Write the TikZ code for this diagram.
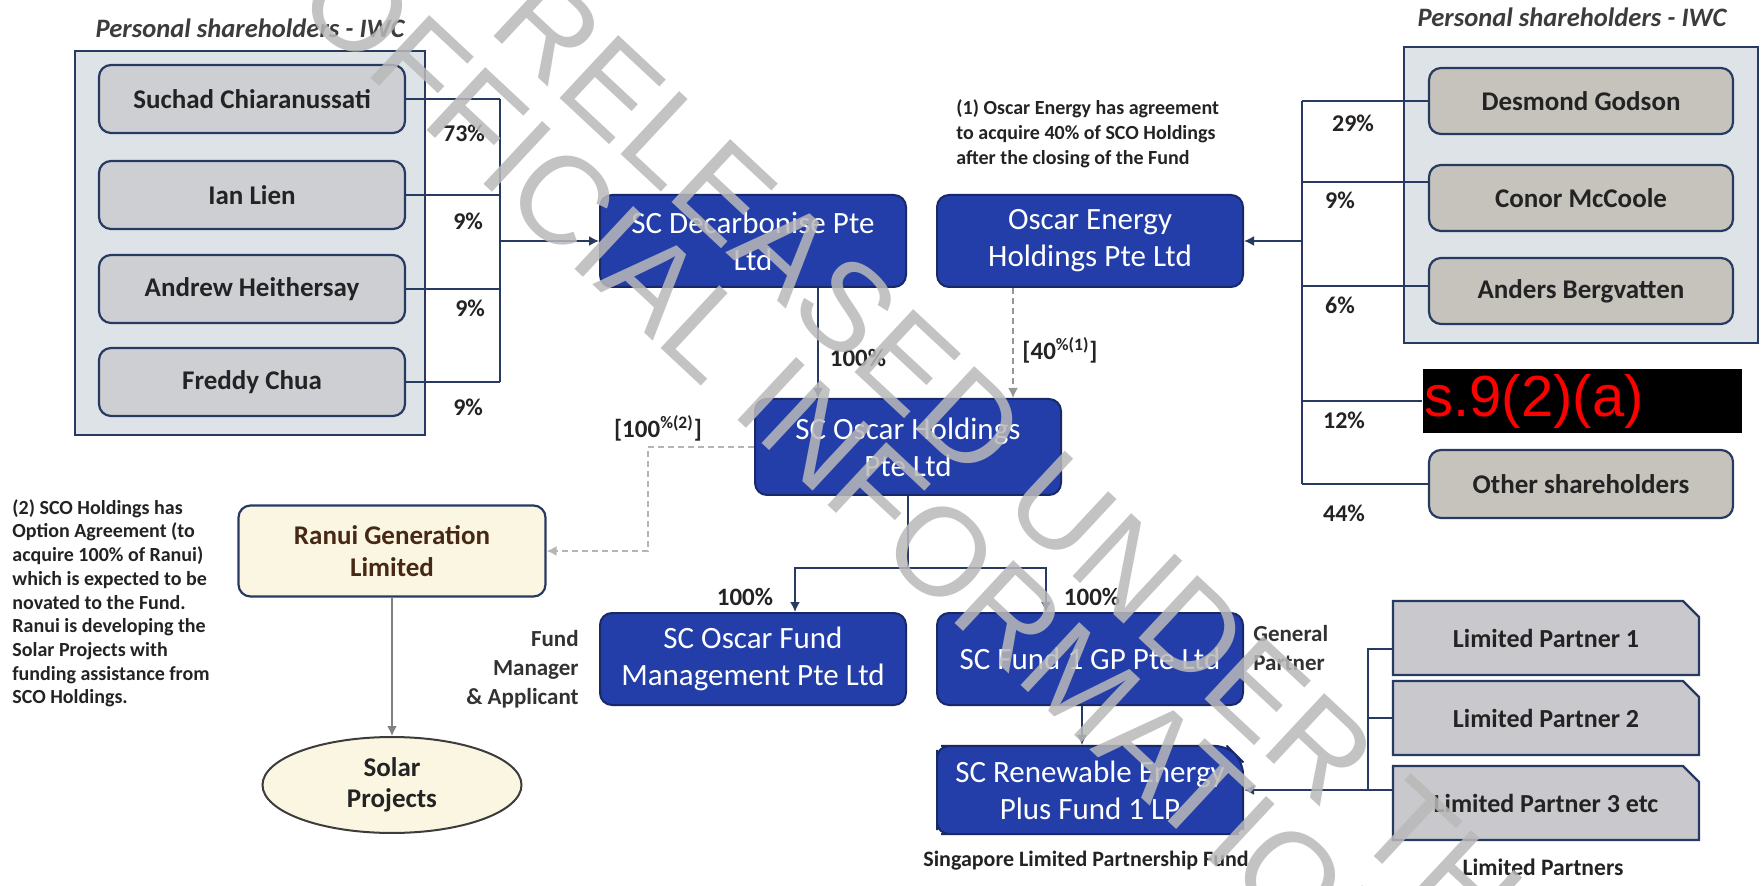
\documentclass[tikz,border=0pt]{standalone}
\usepackage{fontspec}
\setmainfont{Carlito}
\newfontfamily\redactfont{Liberation Sans}
\newfontfamily\stampfont{Liberation Sans}
\usetikzlibrary{positioning, arrows.meta, shapes.geometric, shapes.misc}

\definecolor{boxblue}{RGB}{35,62,168}
\definecolor{boxedge}{RGB}{24,40,105}
\definecolor{navy}{RGB}{38,58,98}
\definecolor{greyfill}{RGB}{205,207,211}
\definecolor{warmgrey}{RGB}{198,195,188}
\definecolor{lpgrey}{RGB}{201,201,205}
\definecolor{panelfill}{RGB}{222,227,232}
\definecolor{creamfill}{RGB}{251,246,226}
\definecolor{textdark}{RGB}{35,35,35}
\definecolor{titlegrey}{RGB}{60,60,60}
\definecolor{rolegrey}{RGB}{50,50,50}
\definecolor{ranuitext}{RGB}{70,40,20}
\definecolor{dashgrey}{RGB}{150,150,150}
\definecolor{stampgrey}{RGB}{185,185,185}

\begin{document}
\begin{tikzpicture}[x=0.5pt, y=-0.5pt,
    entity/.style={draw=boxedge, line width=1pt, fill=boxblue, rounded corners=6pt,
      minimum width=153pt, minimum height=46pt, align=center, text=white,
      font=\fontsize{15.5}{18.5}\selectfont},
    person/.style={draw=navy, line width=1.1pt, fill=greyfill, rounded corners=6pt,
      minimum width=153pt, minimum height=34pt, text=textdark,
      font=\bfseries\fontsize{13.5}{16}\selectfont},
    partner/.style={chamfered rectangle, chamfered rectangle corners=north east,
      chamfered rectangle sep=4pt, draw=navy, line width=1.1pt, fill=lpgrey,
      minimum width=153pt, minimum height=37pt, text=textdark,
      font=\bfseries\fontsize{13}{16}\selectfont},
    panel/.style={draw=navy, line width=1.1pt, fill=panelfill},
    paneltitle/.style={text=titlegrey, font=\bfseries\itshape\fontsize{13.3}{16}\selectfont},
    link/.style={draw=navy, line width=0.9pt},
    optlink/.style={draw=dashgrey, line width=0.9pt, dash pattern=on 3pt off 2pt},
    arrowed/.style={-{Latex[length=5pt, width=5pt]}},
    share/.style={text=textdark, font=\bfseries\fontsize{12}{14}\selectfont},
    note/.style={text=textdark, align=left, inner sep=0pt, font=\bfseries\fontsize{10}{12.5}\selectfont},
    role/.style={text=rolegrey, inner sep=0pt, font=\bfseries\fontsize{11.5}{14.5}\selectfont},
  ]
\useasboundingbox (0,0) rectangle (1764,886);

% left shareholders
\draw[panel] (75,51) rectangle (425,435);
\node[paneltitle] (ltitle) at (250,28) {Personal shareholders - IWC};
\node[person] (suchad) at (252,99) {Suchad Chiaranussati};
\node[person] (ian) at (252,195) {Ian Lien};
\node[person] (andrew) at (252,289) {Andrew Heithersay};
\node[person] (freddy) at (252,382) {Freddy Chua};

% right shareholders
\draw[panel] (1404,47) rectangle (1758,343);
\node[paneltitle] (rtitle) at (1572,17) {Personal shareholders - IWC};
\node[person, fill=warmgrey, minimum width=152pt, minimum height=33pt] (desmond) at (1581,101) {Desmond Godson};
\node[person, fill=warmgrey, minimum width=152pt, minimum height=33pt] (conor) at (1581,198) {Conor McCoole};
\node[person, fill=warmgrey, minimum width=152pt, minimum height=33pt] (anders) at (1581,291) {Anders Bergvatten};
\node[fill=black, minimum width=159.5pt, minimum height=32pt, inner sep=0pt] (redacted) at (1582,401) {};
\node[anchor=west, inner sep=1pt, text=red, font=\redactfont\fontsize{29}{30}\selectfont] (redlabel) at (redacted.west) {s.9(2)(a)};
\node[person, fill=warmgrey, minimum width=152pt, minimum height=34pt] (others) at (1581,484) {Other shareholders};

% companies
\node[entity] (decarb) at (753,241) {SC Decarbonise Pte\\Ltd};
\node[entity] (oscarE) at (1090,241) {Oscar Energy\\Holdings Pte Ltd};
\node[entity, minimum height=48pt] (scoh) at (908,447) {SC Oscar Holdings\\Pte Ltd};
\node[entity] (fundmgmt) at (753,659) {SC Oscar Fund\\Management Pte Ltd};
\node[entity] (gp) at (1090,659) {SC Fund 1 GP Pte Ltd};
\node[entity, chamfered rectangle, chamfered rectangle corners=north east,
  chamfered rectangle sep=4pt, minimum height=39pt] (renew) at (1090,790) {SC Renewable Energy\\Plus Fund 1 LP};

\node[draw=navy, line width=1.1pt, fill=creamfill, rounded corners=6pt, minimum width=153.5pt,
  minimum height=45.5pt, align=center, text=ranuitext,
  font=\bfseries\fontsize{13.5}{16}\selectfont] (ranui) at (392,551) {Ranui Generation\\Limited};
\node[ellipse, draw=titlegrey, line width=1pt, fill=creamfill, minimum width=129.5pt,
  minimum height=47.5pt, align=center, text=textdark,
  font=\bfseries\fontsize{13.5}{15.5}\selectfont] (solar) at (392,785) {Solar\\Projects};

% limited partners
\node[partner] (lp1) at (1546,638) {Limited Partner 1};
\node[partner] (lp2) at (1546,718) {Limited Partner 2};
\node[partner] (lp3) at (1546,803) {Limited Partner 3 etc};

% notes and captions
\node[note, anchor=north west] (note1) at (956,99) {(1) Oscar Energy has agreement\\to acquire 40\% of SCO Holdings\\after the closing of the Fund};
\node[note, anchor=north west, font=\bfseries\fontsize{10}{11.85}\selectfont] (note2) at (12,499) {(2) SCO Holdings has\\Option Agreement (to\\acquire 100\% of Ranui)\\which is expected to be\\novated to the Fund.\\Ranui is developing the\\Solar Projects with\\funding assistance from\\SCO Holdings.};
\node[role, anchor=east, align=right] (rolefm) at (579,669) {Fund\\Manager\\\& Applicant};
\node[role, anchor=west, align=left] (rolegp) at (1253,648) {General\\Partner};
\node[role, text=textdark, font=\bfseries\fontsize{11}{13}\selectfont] (lpcaption) at (1086,861) {Singapore Limited Partnership Fund};
\node[role, text=textdark, font=\bfseries\fontsize{11.8}{14}\selectfont] (lpscaption) at (1543,867) {Limited Partners};

% left links
\coordinate (lbus) at (500,241);
\foreach \p in {suchad,ian,andrew,freddy}
  \draw[link] (\p.east) -- (\p.east -| lbus);
\draw[link] (suchad.east -| lbus) -- (freddy.east -| lbus);
\draw[link, arrowed] (lbus) -- (decarb.west);
\node[share, anchor=east] (pct1) at (492,133) {73\%};
\node[share, anchor=east] (pct2) at (490,221) {9\%};
\node[share, anchor=east] (pct3) at (492,308) {9\%};
\node[share, anchor=east] (pct4) at (490,407) {9\%};

% right links
\coordinate (rbus) at (1302,241);
\draw[link] (desmond.west) -- (desmond.west -| rbus);
\draw[link] ([yshift=8pt]conor.west) -- ([yshift=8pt]conor.west -| rbus);
\draw[link] ([yshift=2.5pt]anders.west) -- ([yshift=2.5pt]anders.west -| rbus);
\draw[link] (redacted.west) -- (redacted.west -| rbus);
\draw[link] (others.west) -- (others.west -| rbus);
\draw[link] (desmond.west -| rbus) -- (others.west -| rbus);
\draw[link, arrowed] (rbus) -- (oscarE.east);
\node[share, anchor=west] (pct5) at (1325,123) {29\%};
\node[share, anchor=west] (pct6) at (1318,200) {9\%};
\node[share, anchor=west] (pct7) at (1318,305) {6\%};
\node[share, anchor=west] (pct8) at (1316,420) {12\%};
\node[share, anchor=west] (pct9) at (1316,513) {44\%};

% holdings links
\draw[link, arrowed] ([xshift=32.5pt]decarb.south) -- ([xshift=32.5pt]decarb.south |- scoh.north);
\draw[optlink, arrowed] ([xshift=-38.5pt]oscarE.south) -- ([xshift=-38.5pt]oscarE.south |- scoh.north);
\node[share, font=\bfseries\fontsize{12.5}{14}\selectfont] (pct10) at (858,358) {100\%};
\node[share, font=\bfseries\fontsize{12.5}{14}\selectfont] (pct11) at (1060,350) {[40\textsuperscript{\%(1)}]};
\coordinate (rbend) at (648,447);
\draw[optlink, draw=dashgrey!70, arrowed] (scoh.west) -- (rbend) |- (ranui.east);
\node[share, font=\bfseries\fontsize{12.5}{14}\selectfont] (pct12) at (658,428) {[100\textsuperscript{\%(2)}]};
\draw[link, draw=dashgrey!120, arrowed] (ranui) -- (solar);

% fund links
\coordinate (sbus) at (908,568);
\draw[link] (scoh.south) -- (sbus);
\draw[link, arrowed] (sbus) -| ([xshift=21pt]fundmgmt.north);
\draw[link, arrowed] (sbus) -| ([xshift=-22pt]gp.north);
\node[share, font=\bfseries\fontsize{12.5}{14}\selectfont] (pct13) at (745,597) {100\%};
\node[share, font=\bfseries\fontsize{12.5}{14}\selectfont] (pct14) at (1092,597) {100\%};
\draw[link, arrowed] ([xshift=-4pt]gp.south) -- ([xshift=-4pt]gp.south |- renew.north);

\coordinate (lpbus) at (1368,790);
\draw[link] ([yshift=-5.5pt]lp1.west) -| (lpbus);
\draw[link] (lp2.west) -- (lp2.west -| lpbus);
\draw[link, arrowed] ([yshift=6.5pt]lp3.west) -- (renew.east);

% release stamp
\node[rotate=-43, align=center, text=stampgrey, text opacity=0.85,
  font=\stampfont\fontsize{62.5}{57.5}\selectfont] (stamp) at (1000,528) {RELEASED UNDER THE\\OFFICIAL INFORMATION ACT};
\end{tikzpicture}
\end{document}
